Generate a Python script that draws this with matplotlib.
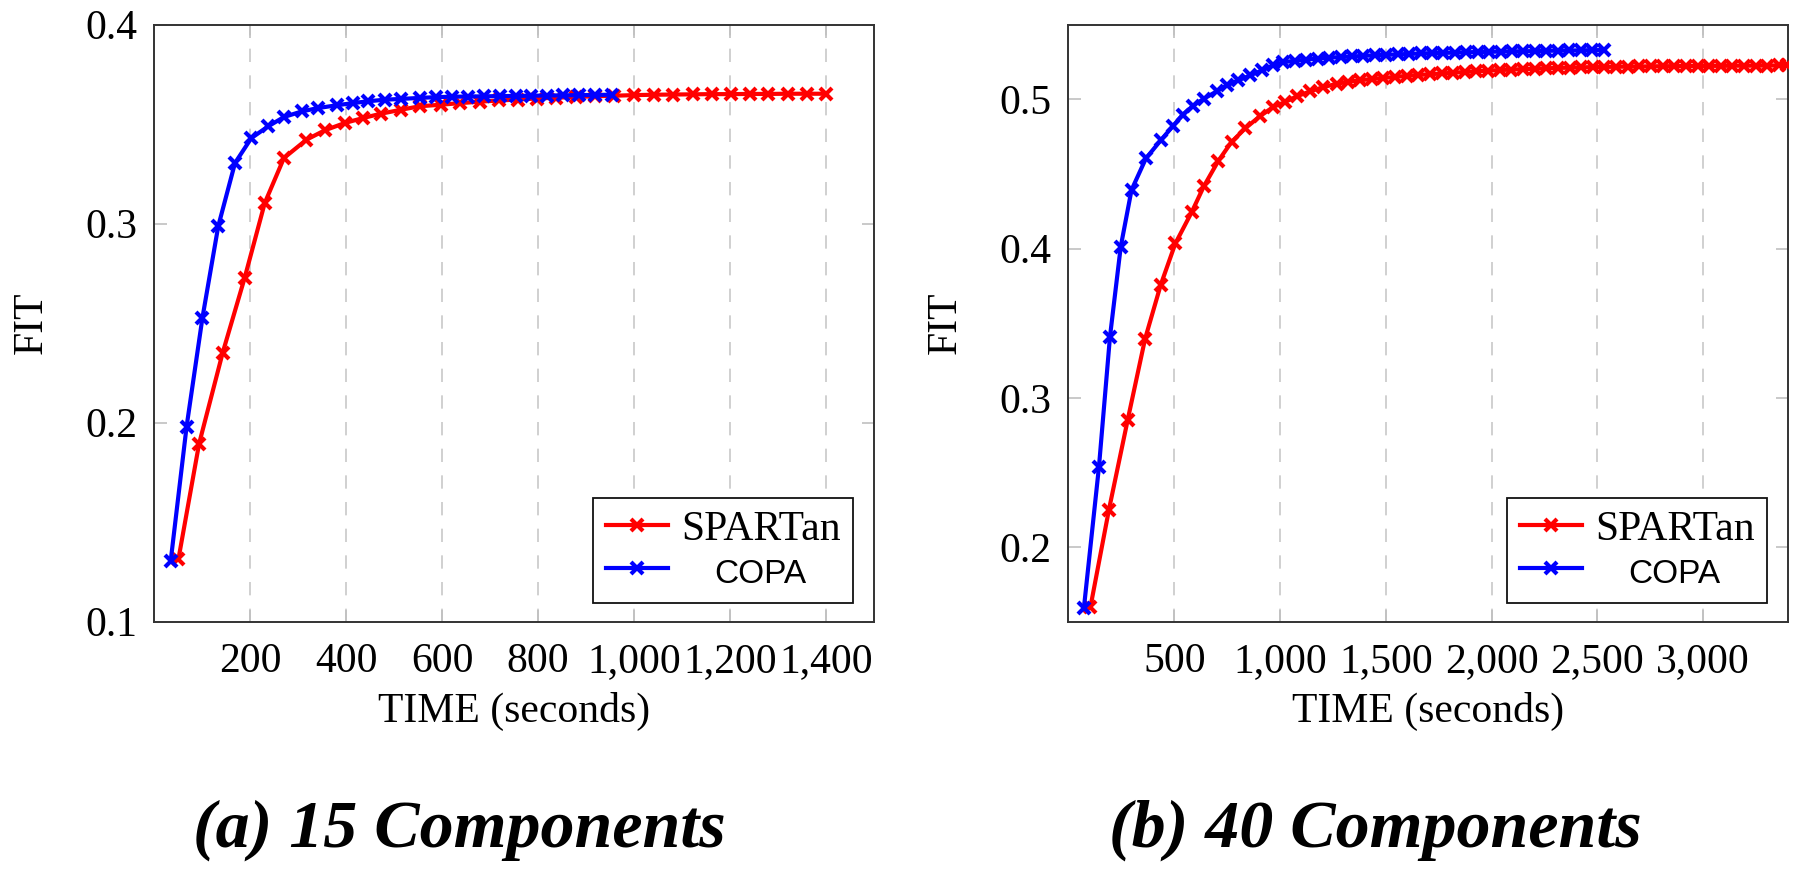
import matplotlib.pyplot as plt

plt.rcParams['font.family'] = ['Liberation Serif', 'DejaVu Serif']

# (a) 15 components
spartan15_t = [50, 93, 142, 188, 230, 270, 317, 355, 397, 435, 473, 515, 553, 598,
               638, 678, 718, 758, 798, 838, 878, 918, 958, 1000, 1042, 1082, 1122,
               1162, 1202, 1242, 1280, 1321, 1361, 1401]
spartan15_fit = [0.1314, 0.1893, 0.2349, 0.2727, 0.3104, 0.3330, 0.3422, 0.3469, 0.3506,
                 0.3531, 0.3553, 0.3573, 0.3590, 0.3598, 0.3606, 0.3613, 0.3619, 0.3624,
                 0.3629, 0.3633, 0.3637, 0.3640, 0.3643, 0.3646, 0.3648, 0.3649, 0.3650,
                 0.3651, 0.3651, 0.3652, 0.3652, 0.3653, 0.3653, 0.3653]
copa15_t = [34, 67, 100, 133, 168, 202, 237, 270, 307, 341, 380, 414, 445, 480, 515,
            553, 588, 621, 654, 687, 720, 753, 786, 819, 852, 885, 918, 954]
copa15_fit = [0.1307, 0.1980, 0.2526, 0.2987, 0.3305, 0.3430, 0.3489, 0.3536, 0.3564,
              0.3581, 0.3595, 0.3606, 0.3615, 0.3623, 0.3627, 0.3632, 0.3636, 0.3638,
              0.3639, 0.3640, 0.3641, 0.3642, 0.3643, 0.3644, 0.3645, 0.3646, 0.3647,
              0.3648]

# (b) 40 components
spartan40_t = [104, 191, 280, 362, 436, 505, 582, 640, 708, 771, 836, 903, 968, 1024,
               1079, 1142, 1205, 1268, 1323, 1378, 1433, 1488, 1543, 1598, 1653, 1708,
               1763, 1818, 1873, 1928, 1983, 2038, 2093, 2148, 2203, 2258, 2313, 2368,
               2423, 2478, 2533, 2588, 2643, 2698, 2753, 2808, 2863, 2918, 2973, 3028,
               3083, 3138, 3193, 3248, 3303, 3358, 3397]
spartan40_fit = [0.1600, 0.2249, 0.2853, 0.3395, 0.3757, 0.4034, 0.4243, 0.4418, 0.4587,
                 0.4715, 0.4806, 0.4885, 0.4949, 0.4982, 0.5020, 0.5053, 0.5082, 0.5104,
                 0.5118, 0.5128, 0.5136, 0.5143, 0.5150, 0.5157, 0.5163, 0.5168, 0.5173,
                 0.5178, 0.5183, 0.5188, 0.5192, 0.5196, 0.5199, 0.5202, 0.5205, 0.5208,
                 0.5210, 0.5212, 0.5214, 0.5216, 0.5217, 0.5218, 0.5219, 0.5220, 0.5221,
                 0.5222, 0.5222, 0.5223, 0.5223, 0.5224, 0.5224, 0.5225, 0.5225, 0.5226,
                 0.5226, 0.5227, 0.5227]
copa40_t = [73, 144, 196, 247, 298, 366, 437, 492, 540, 590, 640, 700, 748, 803, 858,
            913, 968, 1016, 1070, 1124, 1178, 1232, 1286, 1340, 1394, 1448, 1502, 1556,
            1610, 1664, 1718, 1772, 1826, 1880, 1934, 1988, 2042, 2096, 2150, 2204, 2258,
            2312, 2366, 2420, 2474, 2529]
copa40_fit = [0.1593, 0.2537, 0.3408, 0.4013, 0.4393, 0.4604, 0.4727, 0.4818, 0.4897,
              0.4958, 0.5004, 0.5053, 0.5093, 0.5127, 0.5160, 0.5193, 0.5227, 0.5249,
              0.5258, 0.5266, 0.5273, 0.5279, 0.5283, 0.5287, 0.5291, 0.5295, 0.5298,
              0.5301, 0.5304, 0.5307, 0.5309, 0.5311, 0.5313, 0.5315, 0.5317, 0.5318,
              0.5320, 0.5321, 0.5322, 0.5323, 0.5325, 0.5326, 0.5327, 0.5328, 0.5329,
              0.5330]

xticks_a = [200, 400, 600, 800, 1000, 1200, 1400]
xticklabels_a = ['200', '400', '600', '800', '1,000', '1,200', '1,400']
yticks_a = [0.1, 0.2, 0.3, 0.4]
yticklabels_a = ['0.1', '0.2', '0.3', '0.4']
xticks_b = [500, 1000, 1500, 2000, 2500, 3000]
xticklabels_b = ['500', '1,000', '1,500', '2,000', '2,500', '3,000']
yticks_b = [0.2, 0.3, 0.4, 0.5]
yticklabels_b = ['0.2', '0.3', '0.4', '0.5']

FS = 30

fig = plt.figure(figsize=(18, 8.69), dpi=100)
ax_a = fig.add_axes([0.0858, 0.2846, 0.3997, 0.687])
ax_b = fig.add_axes([0.5936, 0.2846, 0.3997, 0.687])


def style_axes(ax, series, xlim, ylim, xticks, xlabels, yticks, ylabels):
    for t, v, color, label in series:
        ax.plot(t, v, color=color, lw=3.0, marker='x', ms=9, mew=3.0, label=label,
                zorder=3)
    ax.set_xlim(*xlim)
    ax.set_ylim(*ylim)
    ax.set_xticks(xticks)
    ax.set_xticklabels(xlabels)
    ax.set_yticks(yticks)
    ax.set_yticklabels(ylabels)
    ax.tick_params(axis='both', which='major', direction='in', length=9, width=1.2,
                   color='#c0c0c0', labelsize=FS, top=True, right=True)
    ax.tick_params(axis='x', pad=15)
    ax.tick_params(axis='y', pad=12)
    ax.grid(axis='x', color='#c8c8c8', lw=1.2, linestyle=(0, (8, 8)))
    for s in ax.spines.values():
        s.set_color('#333333')
        s.set_linewidth(1.4)
    ax.set_xlabel('TIME (seconds)', fontsize=FS, labelpad=8)
    ax.set_ylabel('FIT', fontsize=FS, labelpad=25)
    leg = ax.legend(loc='lower right', bbox_to_anchor=(0.971, 0.032), borderaxespad=0,
                    fontsize=FS, fancybox=False, framealpha=1, edgecolor='#111111',
                    handlelength=1.5, handletextpad=0.3, borderpad=0.3,
                    labelspacing=0.12, numpoints=1)
    leg.get_frame().set_linewidth(1.3)
    texts = leg.get_texts()
    texts[1].set_fontfamily('Liberation Sans')
    texts[1].set_fontsize(24)
    return leg


leg_a = style_axes(ax_a, [(spartan15_t, spartan15_fit, '#ff0000', 'SPARTan'),
                          (copa15_t, copa15_fit, '#0000ff', 'COPA')],
                   (0, 1500), (0.1, 0.4), xticks_a, xticklabels_a, yticks_a, yticklabels_a)
leg_b = style_axes(ax_b, [(spartan40_t, spartan40_fit, '#ff0000', 'SPARTan'),
                          (copa40_t, copa40_fit, '#0000ff', 'COPA')],
                   (0, 3400), (0.15, 0.55), xticks_b, xticklabels_b, yticks_b, yticklabels_b)

# centre the legend entries like pgfplots does
fig.canvas.draw()
r = fig.canvas.get_renderer()
for leg in (leg_a, leg_b):
    texts = leg.get_texts()
    ws = [t.get_window_extent(r).width for t in texts]
    for t, w in zip(texts, ws):
        t.set_x((max(ws) - w) / 2)

fig.text(459 / 1800, 22 / 869, '(a) 15 Components', ha='center', va='baseline',
         fontsize=49, fontweight='bold', fontstyle='italic')
fig.text(1375 / 1800, 22 / 869, '(b) 40 Components', ha='center', va='baseline',
         fontsize=49, fontweight='bold', fontstyle='italic')

plt.savefig('out.png', dpi=100)
plt.close()
